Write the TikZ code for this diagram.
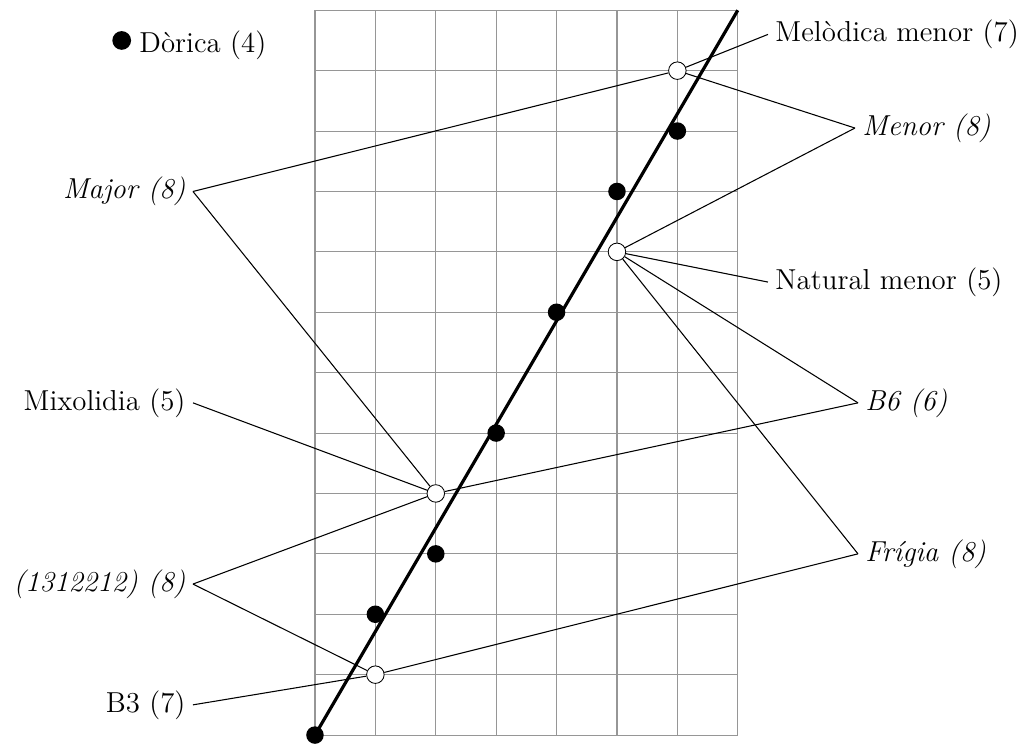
\documentclass[tikz,border=0pt]{standalone}
\usepackage{fontspec}
\usepackage{tikz}
\usetikzlibrary{positioning}
\definecolor{gridGray}{RGB}{150, 150, 150}
\definecolor{inkBlack}{RGB}{0, 0, 0}

\begin{document}
\begin{tikzpicture}[
    font=\fontsize{13.6pt}{16pt}\selectfont,
    fulldot/.style={circle, fill=inkBlack, inner sep=0pt, minimum size=0.29cm},
    opendot/.style={circle, draw=inkBlack, fill=white, inner sep=0pt, minimum size=0.29cm},
    leftlabel/.style={anchor=east},
    rightlabel/.style={anchor=west},
    pointer/.style={draw=inkBlack, line width=0.5pt}
]
    \useasboundingbox (-5.215,-0.15) rectangle (11.805,12.17);

    % grid of the scale
    \draw[gridGray, line width=0.5pt] (0,0) grid (7,12);
    \draw[inkBlack, line width=1.5pt] (0,0) -- (7,12);

    % filled points
    \foreach \px/\py [count=\i] in {0/0, 1/2, 2/3, 3/5, 4/7, 5/9, 6/10}
        \node[fulldot] (f\i) at (\px,\py) {};

    % open points
    \node[opendot] (oMel) at (6,11) {};
    \node[opendot] (oNat) at (5,8) {};
    \node[opendot] (oMix) at (2,4) {};
    \node[opendot] (oBtr) at (1,1) {};

    % legend
    \node[fulldot, minimum size=0.31cm] (legdot) at (-3.2,11.5) {};
    \node[rightlabel] (dorica) at (-3.03,11.42) {Dòrica (4)};

    % labels
    \node[rightlabel] (melodica) at (7.5,11.6) {Melòdica menor (7)};
    \node[rightlabel] (menor) at (8.94,10.05) {\itshape Menor (8)};
    \node[leftlabel] (major) at (-2.02,9) {\itshape Major (8)};
    \node[rightlabel] (natural) at (7.5,7.5) {Natural menor (5)};
    \node[leftlabel] (mixolidia) at (-2.02,5.5) {Mixolidia (5)};
    \node[rightlabel] (bsix) at (8.99,5.5) {\itshape B6 (6)};
    \node[leftlabel] (tones) at (-2.02,2.5) {\itshape (1312212) (8)};
    \node[rightlabel] (frigia) at (8.99,3) {\itshape Frígia (8)};
    \node[leftlabel] (bthree) at (-2.02,0.5) {B3 (7)};

    % pointers
    \draw[pointer] (melodica.west) -- (oMel);
    \draw[pointer] (menor.west) -- (oMel);
    \draw[pointer] (menor.west) -- (oNat);
    \draw[pointer] (major.east) -- (oMel);
    \draw[pointer] (major.east) -- (oMix);
    \draw[pointer] (natural.west) -- (oNat);
    \draw[pointer] (mixolidia.east) -- (oMix);
    \draw[pointer] (bsix.west) -- (oNat);
    \draw[pointer] (bsix.west) -- (oMix);
    \draw[pointer] (tones.east) -- (oMix);
    \draw[pointer] (tones.east) -- (oBtr);
    \draw[pointer] (frigia.west) -- (oNat);
    \draw[pointer] (frigia.west) -- (oBtr);
    \draw[pointer] (bthree.east) -- (oBtr);
\end{tikzpicture}
\end{document}
